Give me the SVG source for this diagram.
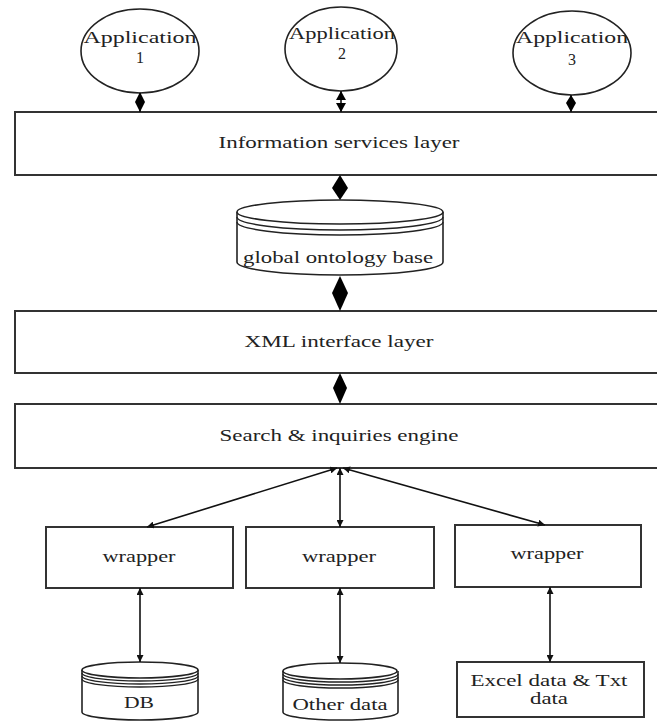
<svg xmlns="http://www.w3.org/2000/svg" width="657" height="722" viewBox="0 0 657 722">
<style>
.s{fill:#fff;stroke:#222;stroke-width:1.6}
.b{fill:#fff;stroke:#333;stroke-width:2}
.t{font-family:"Liberation Serif","Times New Roman",serif;font-size:16px;fill:#222;text-anchor:middle}
.ln{stroke:#111;stroke-width:1.6;fill:none}
.d{fill:#000;stroke:none}
.st{fill:none;stroke:#222;stroke-width:1.4}
</style>
<defs>
<marker id="ah" viewBox="0 0 10 10" refX="10" refY="5" markerWidth="7" markerHeight="7" markerUnits="userSpaceOnUse" orient="auto-start-reverse">
<path d="M0,0 L10,5 L0,10 z" fill="#111"/>
</marker>
</defs>
<rect width="657" height="722" fill="#fff"/>

<g id="app1">
<ellipse class="s" cx="140" cy="51" rx="59" ry="42"/>
<text class="t" x="140" y="43" font-size="17" textLength="113" lengthAdjust="spacingAndGlyphs">Application</text>
<text class="t" x="140" y="63" font-size="17">1</text>
</g>
<g id="app2">
<ellipse class="s" cx="341" cy="49" rx="56" ry="42"/>
<text class="t" x="342" y="39" font-size="17" textLength="106" lengthAdjust="spacingAndGlyphs">Application</text>
<text class="t" x="342" y="59" font-size="17">2</text>
</g>
<g id="app3">
<ellipse class="s" cx="572" cy="53" rx="59" ry="42"/>
<text class="t" x="572" y="43" font-size="17" textLength="112" lengthAdjust="spacingAndGlyphs">Application</text>
<text class="t" x="572" y="65" font-size="17">3</text>
</g>

<g id="info">
<rect class="b" x="15" y="112" width="660" height="63"/>
<text class="t" x="339" y="148" textLength="241" lengthAdjust="spacingAndGlyphs">Information services layer</text>
</g>

<g id="ontology">
<path class="s" d="M237,212 L237,262 A103,13 0 0 0 443,262 L443,212"/>
<ellipse class="s" cx="340" cy="212" rx="103" ry="12"/>
<path class="st" d="M237,217 A103,13 0 0 0 443,217"/>
<path class="st" d="M237,222 A103,13 0 0 0 443,222"/>
<text class="t" x="338" y="263" textLength="190" lengthAdjust="spacingAndGlyphs">global ontology base</text>
</g>

<g id="xml">
<rect class="b" x="15" y="311" width="660" height="62"/>
<text class="t" x="339" y="347" textLength="189" lengthAdjust="spacingAndGlyphs">XML interface layer</text>
</g>

<g id="search">
<rect class="b" x="15" y="404" width="660" height="64"/>
<text class="t" x="339" y="441" textLength="239" lengthAdjust="spacingAndGlyphs">Search &amp; inquiries engine</text>
</g>

<g id="wrapper1">
<rect class="b" x="46" y="527" width="187" height="61"/>
<text class="t" x="139" y="562" textLength="73" lengthAdjust="spacingAndGlyphs">wrapper</text>
</g>
<g id="wrapper2">
<rect class="b" x="246" y="527" width="188" height="61"/>
<text class="t" x="339" y="562" textLength="74" lengthAdjust="spacingAndGlyphs">wrapper</text>
</g>
<g id="wrapper3">
<rect class="b" x="455" y="525" width="186" height="62"/>
<text class="t" x="547" y="559" textLength="73" lengthAdjust="spacingAndGlyphs">wrapper</text>
</g>

<g id="db">
<path class="s" d="M82,670 L82,712 A58,8 0 0 0 198,712 L198,670"/>
<ellipse class="s" cx="140" cy="670" rx="58" ry="8"/>
<path class="st" d="M82,673 A58,8 0 0 0 198,673"/>
<path class="st" d="M82,676 A58,8 0 0 0 198,676"/>
<path class="st" d="M82,679 A58,8 0 0 0 198,679"/>
<text class="t" x="139" y="708" textLength="30" lengthAdjust="spacingAndGlyphs">DB</text>
</g>
<g id="other">
<path class="s" d="M283,671 L283,712 A57,8 0 0 0 398,712 L398,671"/>
<ellipse class="s" cx="340" cy="671" rx="57" ry="8"/>
<path class="st" d="M283,674 A57,8 0 0 0 398,674"/>
<path class="st" d="M283,677 A57,8 0 0 0 398,677"/>
<path class="st" d="M283,680 A57,8 0 0 0 398,680"/>
<text class="t" x="340" y="710" textLength="95" lengthAdjust="spacingAndGlyphs">Other data</text>
</g>
<g id="excel">
<rect class="b" x="457" y="662" width="187" height="55"/>
<text class="t" x="549" y="686" textLength="157" lengthAdjust="spacingAndGlyphs">Excel data &amp; Txt</text>
<text class="t" x="549" y="704" textLength="38" lengthAdjust="spacingAndGlyphs">data</text>
</g>

<g id="connectors">
<line class="ln" x1="140" y1="93" x2="140" y2="112"/>
<polygon class="d" points="140,92 145,102 140,112 135,102"/>
<line class="ln" x1="341" y1="91" x2="341" y2="112"/>
<polygon class="d" points="341,91 346,100 336,100"/>
<polygon class="d" points="341,112 346,103 336,103"/>
<line class="ln" x1="571" y1="95" x2="571" y2="112"/>
<polygon class="d" points="571,95 576,103 571,112 566,103"/>

<polygon class="d" points="340,175 348,188 340,200 332,188"/>
<polygon class="d" points="340,276 348,293 340,311 332,293"/>
<polygon class="d" points="340,373 347,388 340,404 333,388"/>

<line class="ln" x1="337" y1="468" x2="147" y2="527" marker-start="url(#ah)" marker-end="url(#ah)"/>
<line class="ln" x1="340" y1="468" x2="340" y2="527" marker-start="url(#ah)" marker-end="url(#ah)"/>
<line class="ln" x1="343" y1="468" x2="545" y2="525" marker-start="url(#ah)" marker-end="url(#ah)"/>

<line class="ln" x1="140" y1="588" x2="140" y2="662" marker-start="url(#ah)" marker-end="url(#ah)"/>
<line class="ln" x1="340" y1="588" x2="340" y2="663" marker-start="url(#ah)" marker-end="url(#ah)"/>
<line class="ln" x1="550" y1="587" x2="550" y2="662" marker-start="url(#ah)" marker-end="url(#ah)"/>
</g>
</svg>
